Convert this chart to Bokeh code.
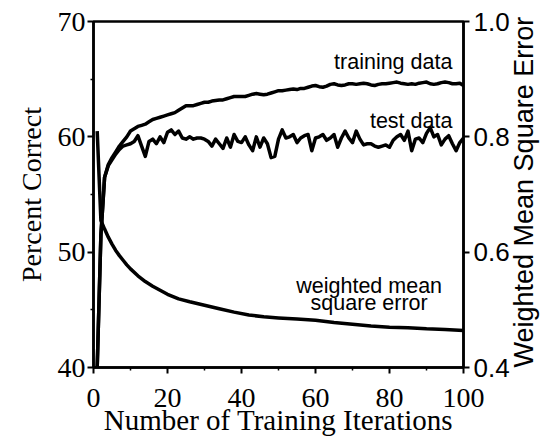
import math
from bokeh.plotting import figure
from bokeh.models import Range1d, LinearAxis, FixedTicker, Label, PrintfTickFormatter
from bokeh.embed import file_html
from bokeh.resources import INLINE

# Percent correct on the training and test sets, per training iteration
iterations = list(range(1, 101))
training_pct = [
    40.0, 51.5, 56.5, 57.6, 58.2, 58.7, 59.2, 59.6, 60.0, 60.5,
    60.7, 60.9, 61.0, 61.1, 61.3, 61.5, 61.6, 61.7, 61.8, 61.9,
    62.0, 62.1, 62.3, 62.5, 62.7, 62.7, 62.7, 62.8, 62.9, 63.0,
    63.0, 63.1, 63.15, 63.2, 63.2, 63.3, 63.4, 63.5, 63.5, 63.5,
    63.5, 63.6, 63.7, 63.75, 63.7, 63.65, 63.7, 63.8, 63.9, 64.0,
    64.0, 64.05, 64.1, 64.15, 64.1, 64.2, 64.2, 64.3, 64.4, 64.45,
    64.35, 64.3, 64.4, 64.55, 64.6, 64.5, 64.45, 64.5, 64.6, 64.6,
    64.55, 64.6, 64.65, 64.6, 64.5, 64.45, 64.55, 64.6, 64.6, 64.65,
    64.7, 64.75, 64.65, 64.6, 64.55, 64.6, 64.55, 64.65, 64.7, 64.75,
    64.6, 64.55, 64.6, 64.7, 64.75, 64.7, 64.6, 64.6, 64.65, 64.45,
]
test_pct = [
    40.0, 51.5, 56.5, 57.5, 58.0, 58.5, 58.9, 59.2, 59.3, 59.4,
    59.6, 60.1, 59.2, 58.3, 59.6, 59.8, 59.4, 60.0, 59.5, 60.4,
    60.6, 60.2, 60.5, 59.9, 59.8, 60.0, 59.8, 59.9, 59.9, 59.8,
    59.6, 59.2, 59.8, 59.4, 59.0, 59.9, 59.1, 60.2, 59.6, 59.5,
    60.0, 59.3, 58.8, 60.0, 59.1, 59.9, 59.4, 58.2, 58.3, 59.8,
    60.6, 59.9, 60.0, 60.2, 59.5, 59.9, 60.1, 60.2, 58.8, 59.9,
    60.0, 60.2, 59.7, 59.9, 60.2, 59.1, 59.9, 60.5, 59.9, 59.5,
    60.5, 59.8, 59.3, 59.4, 59.4, 59.2, 59.1, 59.2, 59.3, 59.1,
    59.7, 60.0, 60.2, 59.7, 60.5, 58.8, 59.8, 59.9, 59.5, 60.3,
    60.8, 60.0, 60.2, 59.3, 59.8, 60.1, 59.4, 58.8, 59.5, 59.9,
]

# Weighted mean square error (right-hand scale)
mse_iterations = [1, 2, 3, 4, 5, 6, 7, 8, 9, 10, 12, 14, 16, 18, 20, 23, 26, 30,
                  34, 38, 42, 46, 50, 55, 60, 65, 70, 75, 80, 85, 90, 95, 100]
mse_values = [0.81, 0.655, 0.64, 0.626, 0.614, 0.603, 0.594, 0.586, 0.578, 0.571,
              0.559, 0.549, 0.541, 0.534, 0.527, 0.519, 0.514, 0.508, 0.502, 0.496,
              0.491, 0.488, 0.486, 0.484, 0.482, 0.478, 0.475, 0.472, 0.470, 0.469,
              0.467, 0.466, 0.464]

pct_ticks = [40, 50, 60, 70]
pct_minor = [45, 55, 65]
iter_ticks = [0, 20, 40, 60, 80, 100]
iter_minor = [10, 30, 50, 70, 90]
mse_ticks = [0.4, 0.6, 0.8, 1.0]

SERIF = "Liberation Serif"
SANS = "Liberation Sans"

p = figure(width=556, height=439,
           x_range=Range1d(0, 100), y_range=Range1d(40, 70),
           output_backend="svg", toolbar_location=None,
           min_border_left=93, min_border_right=93,
           min_border_top=21, min_border_bottom=72)
p.extra_y_ranges = {"mse": Range1d(0.4, 1.0)}

p.xgrid.visible = False
p.ygrid.visible = False
p.outline_line_color = "black"
p.outline_line_width = 2.5
p.outline_line_alpha = 1.0
p.background_fill_color = "white"
p.border_fill_color = "white"

def style_axis(ax, font, size):
    ax.axis_line_color = "black"
    ax.axis_line_width = 2.5
    ax.major_tick_line_color = "black"
    ax.major_tick_line_width = 2
    ax.minor_tick_line_color = "black"
    ax.minor_tick_line_width = 1.5
    ax.major_tick_in = 0
    ax.major_tick_out = 6
    ax.minor_tick_in = 0
    ax.minor_tick_out = 3
    ax.major_label_text_font = font
    ax.major_label_text_font_size = size
    ax.major_label_text_color = "black"
    ax.axis_label_text_font_style = "normal"
    ax.axis_label_text_color = "black"

# Left axis: percent correct
ya = p.yaxis[0]
ya.ticker = FixedTicker(ticks=pct_ticks, minor_ticks=pct_minor)
style_axis(ya, SERIF, "28px")
ya.axis_label = "Percent Correct"
ya.axis_label_text_font = SERIF
ya.axis_label_text_font_size = "28px"
ya.major_label_standoff = 2
ya.axis_label_standoff = 8

# Bottom axis: training iterations
xa = p.xaxis[0]
xa.ticker = FixedTicker(ticks=iter_ticks, minor_ticks=iter_minor)
style_axis(xa, SERIF, "28px")
xa.axis_label = "Number of Training Iterations"
xa.axis_label_text_font = SERIF
xa.axis_label_text_font_size = "29px"
xa.major_label_standoff = 15
xa.axis_label_standoff = -6

# Right axis: weighted mean square error, title reading bottom to top
ra = LinearAxis(y_range_name="mse", ticker=FixedTicker(ticks=mse_ticks, minor_ticks=[]),
                formatter=PrintfTickFormatter(format="%.1f"))
style_axis(ra, SANS, "26px")
ra.major_label_standoff = 4
ra.axis_label = "Weighted Mean Square Error"
ra.axis_label_text_font = SANS
ra.axis_label_text_font_size = "27px"
ra.axis_label_standoff = 11
ra.axis_label_orientation = math.pi / 2
ra.axis_label_align = "start"
p.add_layout(ra, "right")

# Curves
p.line(iterations, training_pct, line_color="black", line_width=3.5, line_join="round")
p.line(iterations, test_pct, line_color="black", line_width=3.5, line_join="round")
p.line(mse_iterations, mse_values, y_range_name="mse",
       line_color="black", line_width=3.5, line_join="round")

# Curve annotations
ann = dict(text_font=SANS, text_font_size="21.5px", text_color="black",
           text_baseline="alphabetic")
p.add_layout(Label(x=97, y=66.45, text="training data", text_align="right", **ann))
p.add_layout(Label(x=97, y=61.35, text="test data", text_align="right", **ann))
p.add_layout(Label(x=74.5, y=47.1, text="weighted mean", text_align="center", **ann))
p.add_layout(Label(x=74.5, y=45.55, text="square error", text_align="center", **ann))

open("out.html", "w").write(file_html(p, INLINE))
